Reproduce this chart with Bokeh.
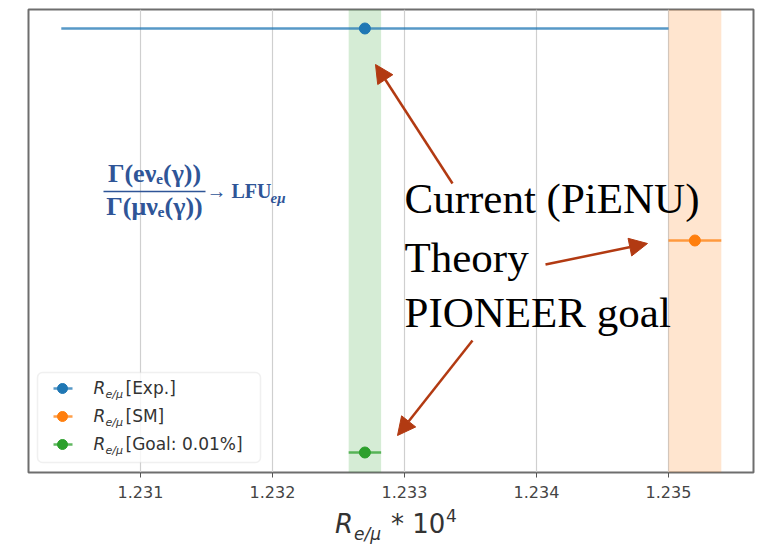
from bokeh.plotting import figure
from bokeh.models import (Range1d, FixedTicker, PrintfTickFormatter, BoxAnnotation,
                          Label, Arrow, NormalHead, ColumnDataSource, Div)
from bokeh.layouts import column
from bokeh.embed import file_html
from bokeh.resources import INLINE

# ---- data ----
SERIES = ["Exp.", "SM", "Goal: 0.01%"]
CENTER = [1.2327, 1.2352, 1.2327]
XERR = [0.0023, 0.0002, 0.000123]
YPOS = [2, 1, 0]
COLORS = ["#1f77b4", "#ff7f0e", "#2ca02c"]
TICKS = [1.231, 1.232, 1.233, 1.234, 1.235]
BANDS = [(1.2327, 0.000123, "#2ca02c"), (1.2352, 0.0002, "#ff7f0e")]

# ---- pixel -> data helpers (page pixels) ----
PX0, X0, PXS = 140.0, 1.231, 132000.0
def dx(px):
    return X0 + (px - PX0) / PXS
def dy(py):
    return (452.0 - py) / 212.0

p = figure(frame_width=725, frame_height=463, output_backend="svg", toolbar_location=None,
           x_range=Range1d(dx(28), dx(753)), y_range=Range1d(dy(472), dy(9)),
           y_axis_location=None, min_border_left=28, min_border_right=3,
           min_border_top=9, min_border_bottom=34)
p.background_fill_color = "white"
p.border_fill_color = "white"
p.outline_line_color = "#6e6e6e"
p.outline_line_width = 2
p.ygrid.visible = False
p.xgrid.grid_line_color = "#cfcfcf"
p.xgrid.grid_line_width = 1.2

ax = p.xaxis[0]
ax.ticker = FixedTicker(ticks=TICKS)
ax.formatter = PrintfTickFormatter(format="%.3f")
ax.axis_line_color = None
ax.major_tick_line_color = "#555555"
ax.major_tick_out = 5
ax.major_tick_in = 0
ax.minor_tick_line_color = None
ax.major_label_text_font = "DejaVu Sans"
ax.major_label_text_font_size = "16px"
ax.major_label_text_color = "#444444"
ax.major_label_standoff = 8

# bands
for c, e, col in BANDS:
    p.add_layout(BoxAnnotation(left=c - e, right=c + e, fill_color=col, fill_alpha=0.2,
                               line_color=None, level="underlay"))

# error bars + points
src = ColumnDataSource(dict(x=CENTER, y=YPOS, x0=[c - e for c, e in zip(CENTER, XERR)],
                            x1=[c + e for c, e in zip(CENTER, XERR)], color=COLORS))
p.segment(x0="x0", y0="y", x1="x1", y1="y", color="color", line_width=2.5, line_alpha=0.75, source=src)
p.scatter(x="x", y="y", color="color", size=11, source=src)

def lab(px, py, text, font="DejaVu Sans", size=17, style="normal", color="#333333", align="left"):
    # py is the intended baseline in page pixels
    p.add_layout(Label(x=dx(px), y=dy(py - 0.36 * size), text=text, text_font=font,
                       text_font_size=f"{size}px", text_font_style=style, text_color=color,
                       text_align=align, text_baseline="alphabetic"))

# legend (manual)
p.add_layout(BoxAnnotation(left=dx(37), right=dx(260), top=dy(372), bottom=dy(462),
                           fill_color="white", fill_alpha=0.8, line_color="#cccccc",
                           line_width=1.5, border_radius=5, level="underlay"))
rows = [388, 416, 444]
for name, col, ry in zip(SERIES, COLORS, rows):
    p.segment(x0=dx(53), y0=dy(ry), x1=dx(72), y1=dy(ry), color=col, line_width=2.5, line_alpha=0.75)
    p.scatter(x=[dx(62)], y=[dy(ry)], color=col, size=10)
    lab(93, ry + 6, "R", style="italic")
    lab(105, ry + 10, "e/μ", size=11, style="italic")
    lab(125, ry + 6, "[" + name + "]")

# formula
FC = "#2f5597"
lab(154, 182, "Γ(eνₑ(γ))", font="Liberation Serif", size=26, style="bold", color=FC, align="center")
p.segment(x0=dx(103), y0=dy(191), x1=dx(205), y1=dy(191), color=FC, line_width=1.5)
lab(154, 215, "Γ(μνₑ(γ))", font="Liberation Serif", size=26, style="bold", color=FC, align="center")
lab(206, 198, "→ LFU", font="Liberation Serif", size=20, style="bold", color=FC)
lab(270, 203, "eμ", font="Liberation Serif", size=15, style="bold italic", color=FC)

# annotations
for t, by in [("Current (PiENU)", 213), ("Theory", 272), ("PIONEER goal", 327)]:
    lab(404, by, t, font="Liberation Serif", size=43, color="black")

AC = "#b23a12"
for (x0, y0, x1, y1) in [(452, 183, 375, 64), (545, 264, 647, 243), (472, 340, 397, 435)]:
    p.add_layout(Arrow(end=NormalHead(size=18, fill_color=AC, line_color=AC),
                       x_start=dx(x0), y_start=dy(y0), x_end=dx(x1), y_end=dy(y1),
                       line_color=AC, line_width=2.5))

# x axis label with sub/superscripts (HTML text below the figure)
xlabel_html = (
    '<div style="position:relative;width:748px;height:41px;font-family:\'DejaVu Sans\';color:#333333;line-height:1.2;">'
    '<span style="position:absolute;left:330px;top:-2px;font-size:26px;font-style:italic;">R</span>'
    '<span style="position:absolute;left:349px;top:13px;font-size:17px;font-style:italic;">e/μ</span>'
    '<span style="position:absolute;left:386px;top:-2px;font-size:26px;white-space:pre;">* 10</span>'
    '<span style="position:absolute;left:441px;top:-5px;font-size:17px;">4</span>'
    '</div>'
)
xl = Div(text=xlabel_html, width=748, height=41, styles={"overflow": "visible"})

open("out.html", "w").write(file_html(column(p, xl), INLINE))
